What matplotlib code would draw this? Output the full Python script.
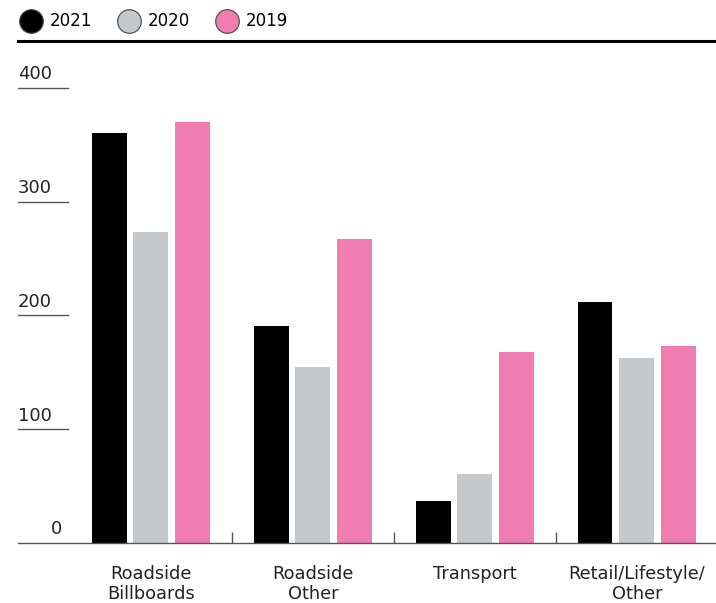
import matplotlib
matplotlib.use("Agg")
import matplotlib.pyplot as plt
from matplotlib.lines import Line2D
import numpy as np

categories = ["Roadside\nBillboards", "Roadside\nOther", "Transport", "Retail/Lifestyle/\nOther"]
years = ["2021", "2020", "2019"]
values_2021 = [360, 191, 37, 212]
values_2020 = [273, 155, 61, 163]
values_2019 = [370, 267, 168, 173]
colors = ["#000000", "#c5c8ca", "#f07db1"]
yticks = [0, 100, 200, 300, 400]

plt.rcParams["font.family"] = ["DejaVu Sans"]

fig = plt.figure(figsize=(7.16, 6.03), dpi=100)
ax = fig.add_axes([18 / 716, 1 - 543 / 603, 698 / 716, 502 / 603])

x = np.arange(len(categories))
width = 0.216
step = 0.259
for i, vals in enumerate([values_2021, values_2020, values_2019]):
    ax.bar(x + (i - 1) * step, vals, width=width, color=colors[i], zorder=2)

ax.set_xlim(-0.821, 3.488)
ax.set_ylim(0, 441.3)

for s in ["left", "right"]:
    ax.spines[s].set_visible(False)
ax.spines["top"].set_linewidth(2.2)
ax.spines["top"].set_color("#000000")
ax.spines["bottom"].set_color("#555555")
ax.spines["bottom"].set_linewidth(1.0)

ax.set_xticks(x)
ax.set_xticklabels(categories, fontsize=12.8, color="#222222", linespacing=1.1)
ax.tick_params(axis="x", which="major", length=0, pad=16)
ax.set_xticks(x[:-1] + 0.5, minor=True)
ax.tick_params(axis="x", which="minor", direction="in", length=8, width=1, color="#555555")
ax.set_yticks([])

for v in yticks[1:]:
    ax.axhline(v, xmin=0, xmax=50 / 698, color="#555555", lw=1)
    ax.text(0, v + 4, str(v), transform=ax.get_yaxis_transform(), ha="left", va="bottom",
            fontsize=13, color="#222222")
ax.text(0.063, yticks[0] + 4, str(yticks[0]), transform=ax.get_yaxis_transform(),
        ha="right", va="bottom", fontsize=13, color="#222222")

handles = [Line2D([], [], marker="o", linestyle="none", markersize=17,
                  markerfacecolor=c, markeredgecolor="#444444", markeredgewidth=0.8)
           for c in colors]
fig.legend(handles, years, loc="upper left", bbox_to_anchor=(0.015, 0.996), ncol=3,
           frameon=False, fontsize=12, handletextpad=0.55, columnspacing=1.6,
           handlelength=1.2, borderaxespad=0.2)

fig.savefig("out.png", dpi=100)
